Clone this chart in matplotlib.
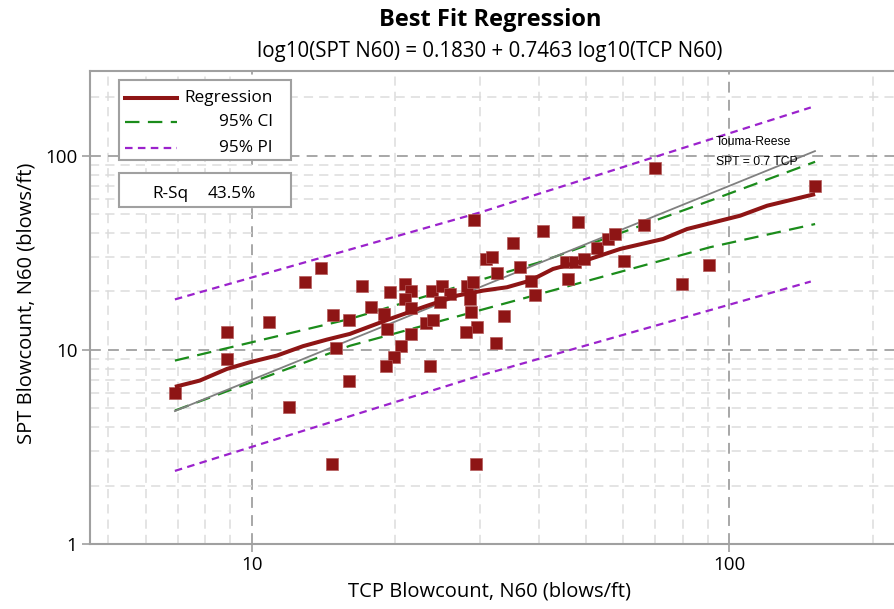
import matplotlib
matplotlib.use("Agg")
import matplotlib.pyplot as plt
from matplotlib.patches import Rectangle
from matplotlib.lines import Line2D
from matplotlib.ticker import LogLocator, FixedLocator, NullFormatter

plt.rcParams['font.family'] = ['Open Sans', 'DejaVu Sans']

# TCP N60 vs SPT N60
tcp = [6.91, 8.87, 8.87, 10.9, 11.97, 12.93, 13.95, 14.82, 15.0, 15.99,
       16.0, 17.0, 17.8, 18.9, 19.2, 20.9, 19.5, 21.6, 20.9, 21.6,
       21.6, 20.5, 19.9, 19.1, 23.6, 23.2, 24.0, 23.8, 25.0, 26.0,
       24.8, 28.3, 29.0, 28.6, 28.8, 29.6, 28.1, 29.2, 31.0, 31.9,
       32.7, 33.8, 32.4, 35.3, 36.4, 38.5, 39.2, 40.8, 45.6, 47.5,
       46.0, 48.2, 49.7, 52.9, 55.8, 57.6, 60.2, 66.1, 69.7, 79.7,
       90.8, 151.0, 14.7, 29.5]
spt = [6.01, 12.3, 8.99, 14.0, 5.09, 22.3, 26.4, 15.2, 10.2, 6.95,
       14.3, 21.3, 16.6, 15.3, 12.8, 21.9, 19.95, 20.1, 18.3, 16.4,
       12.1, 10.45, 9.17, 8.3, 8.3, 13.7, 14.3, 20.2, 21.3, 19.4,
       17.6, 21.3, 22.3, 18.3, 15.6, 13.1, 12.3, 46.8, 29.4, 30.0,
       24.9, 15.0, 10.9, 35.5, 26.6, 22.7, 19.2, 41.1, 28.5, 28.5,
       23.2, 45.7, 29.4, 33.4, 37.3, 39.5, 28.6, 44.0, 86.1, 21.9,
       27.5, 70.1, 2.57, 2.57]

# fitted line and bands
reg_x = [6.91, 7.79, 8.88, 9.92, 11.3, 12.81, 14.38, 16.06, 19.48, 22.84, 26.91,
         30.5, 34.23, 38.25, 42.74, 51.09, 59.04, 72.63, 81.53, 105.3, 119.9, 151.1]
reg_y = [6.45, 6.95, 7.98, 8.64, 9.35, 10.45, 11.3, 12.09, 14.44, 16.59, 19.04,
         20.2, 21.02, 22.73, 26.12, 29.4, 33.1, 37.27, 41.95, 49.13, 55.3, 63.5]
ci_x = [6.91, 16.06, 24.8, 40.1, 91.1, 151.1]
ci_up = [8.81, 14.44, 19.88, 28.3, 58.7, 93.1]
ci_lo = [4.87, 10.5, 14.07, 19.42, 33.8, 44.5]
pi_x = [6.91, 30.1, 148.0]
pi_up = [18.2, 51.1, 177.4]
pi_lo = [2.38, 7.38, 22.5]
tr_x = [6.91, 151.0]
tr_y = [4.84, 105.7]

red = '#8e1515'
green = '#1b8c1b'
purple = '#9b22cc'
edge = '#a0a0a0'

fig = plt.figure(figsize=(8.94, 6.09), dpi=100)
ax = fig.add_axes([90 / 894, 1 - 544 / 609, 804 / 894, 473.5 / 609])
ax.set_xscale('log')
ax.set_yscale('log')
ax.set_xlim(4.59, 221)
ax.set_ylim(1, 275)

minor = [2, 3, 4, 5, 6, 7, 8, 9]
ax.xaxis.set_minor_locator(LogLocator(base=10, subs=minor))
ax.yaxis.set_minor_locator(LogLocator(base=10, subs=minor))
ax.xaxis.set_minor_formatter(NullFormatter())
ax.yaxis.set_minor_formatter(NullFormatter())
ax.xaxis.set_major_locator(FixedLocator([10, 100]))
ax.yaxis.set_major_locator(FixedLocator([1, 10, 100]))
ax.set_xticklabels(['10', '100'])
ax.set_yticklabels(['1', '10', '100'])
ax.grid(which='minor', color='#dcdcdc', linestyle=(0, (6, 4)), linewidth=1.1)
ax.grid(which='major', color='#a0a0a0', linestyle=(0, (6, 4)), linewidth=1.3)
ax.set_axisbelow(True)
ax.tick_params(which='minor', length=0)
ax.tick_params(which='major', length=6, width=1.2, color=edge, labelsize=13.5, pad=3)
for s in ['left', 'bottom', 'top']:
    ax.spines[s].set_color(edge)
    ax.spines[s].set_linewidth(1.5)
ax.spines['right'].set_visible(False)

ax.plot(pi_x, pi_up, color=purple, lw=1.6, dashes=(3.4, 2.4))
ax.plot(pi_x, pi_lo, color=purple, lw=1.6, dashes=(3.4, 2.4))
ax.plot(ci_x, ci_up, color=green, lw=1.6, dashes=(6.5, 3.8))
ax.plot(ci_x, ci_lo, color=green, lw=1.6, dashes=(6.5, 3.8))
ax.plot(tr_x, tr_y, color='#808080', lw=1.3)
ax.plot(tcp, spt, 's', color=red, markersize=9, markeredgecolor='#b45a5a', markeredgewidth=0.5)
ax.plot(reg_x, reg_y, color=red, lw=2.9, solid_capstyle='butt')

ax.text(0.7786, 0.8496, 'Touma-Reese', transform=ax.transAxes, fontsize=8.7,
        family='Liberation Sans', va='center', ha='left')
ax.text(0.7786, 0.8074, 'SPT = 0.7 TCP', transform=ax.transAxes, fontsize=8.7,
        family='Liberation Sans', va='center', ha='left')

# legend box drawn by hand (labels are right-aligned)
ax.add_patch(Rectangle((0.0364, 0.811), 0.2137, 0.169, transform=ax.transAxes,
                       facecolor='white', edgecolor=edge, lw=1.5, zorder=5))
rows = [('Regression', red, 2.9, None, 0.9413),
        ('95% CI', green, 1.6, (6.5, 3.8), 0.8906),
        ('95% PI', purple, 1.6, (3.4, 2.4), 0.837)]
for label, c, lw, dash, yy in rows:
    ln = Line2D([0.0435, 0.1082], [yy, yy], transform=ax.transAxes, color=c, lw=lw, zorder=6)
    if dash:
        ln.set_dashes(dash)
    ax.add_line(ln)
    ax.text(0.2276, yy, label, transform=ax.transAxes, fontsize=12.4, ha='right', va='center', zorder=6)

ax.add_patch(Rectangle((0.0364, 0.7124), 0.2137, 0.0718, transform=ax.transAxes,
                       facecolor='white', edgecolor=edge, lw=1.5, zorder=5))
ax.text(0.0771, 0.7385, 'R-Sq', transform=ax.transAxes, fontsize=12.4, ha='left', va='center', zorder=6)
ax.text(0.1468, 0.7385, '43.5%', transform=ax.transAxes, fontsize=12.4, ha='left', va='center', zorder=6)

fig.text(490 / 894, 1 - 20 / 609, 'Best Fit Regression', ha='center', va='center',
         fontsize=17, fontweight='bold')
fig.text(490 / 894, 1 - 51 / 609, 'log10(SPT N60) = 0.1830 + 0.7463 log10(TCP N60)',
         ha='center', va='center', fontsize=14.8)
fig.text(490 / 894, 1 - 592 / 609, 'TCP Blowcount, N60 (blows/ft)', ha='center', va='center', fontsize=14.5)
fig.text(27 / 894, 1 - 303 / 609, 'SPT Blowcount, N60 (blows/ft)', ha='center', va='center',
         rotation=90, fontsize=14.5)

fig.savefig('out.png', dpi=100)
